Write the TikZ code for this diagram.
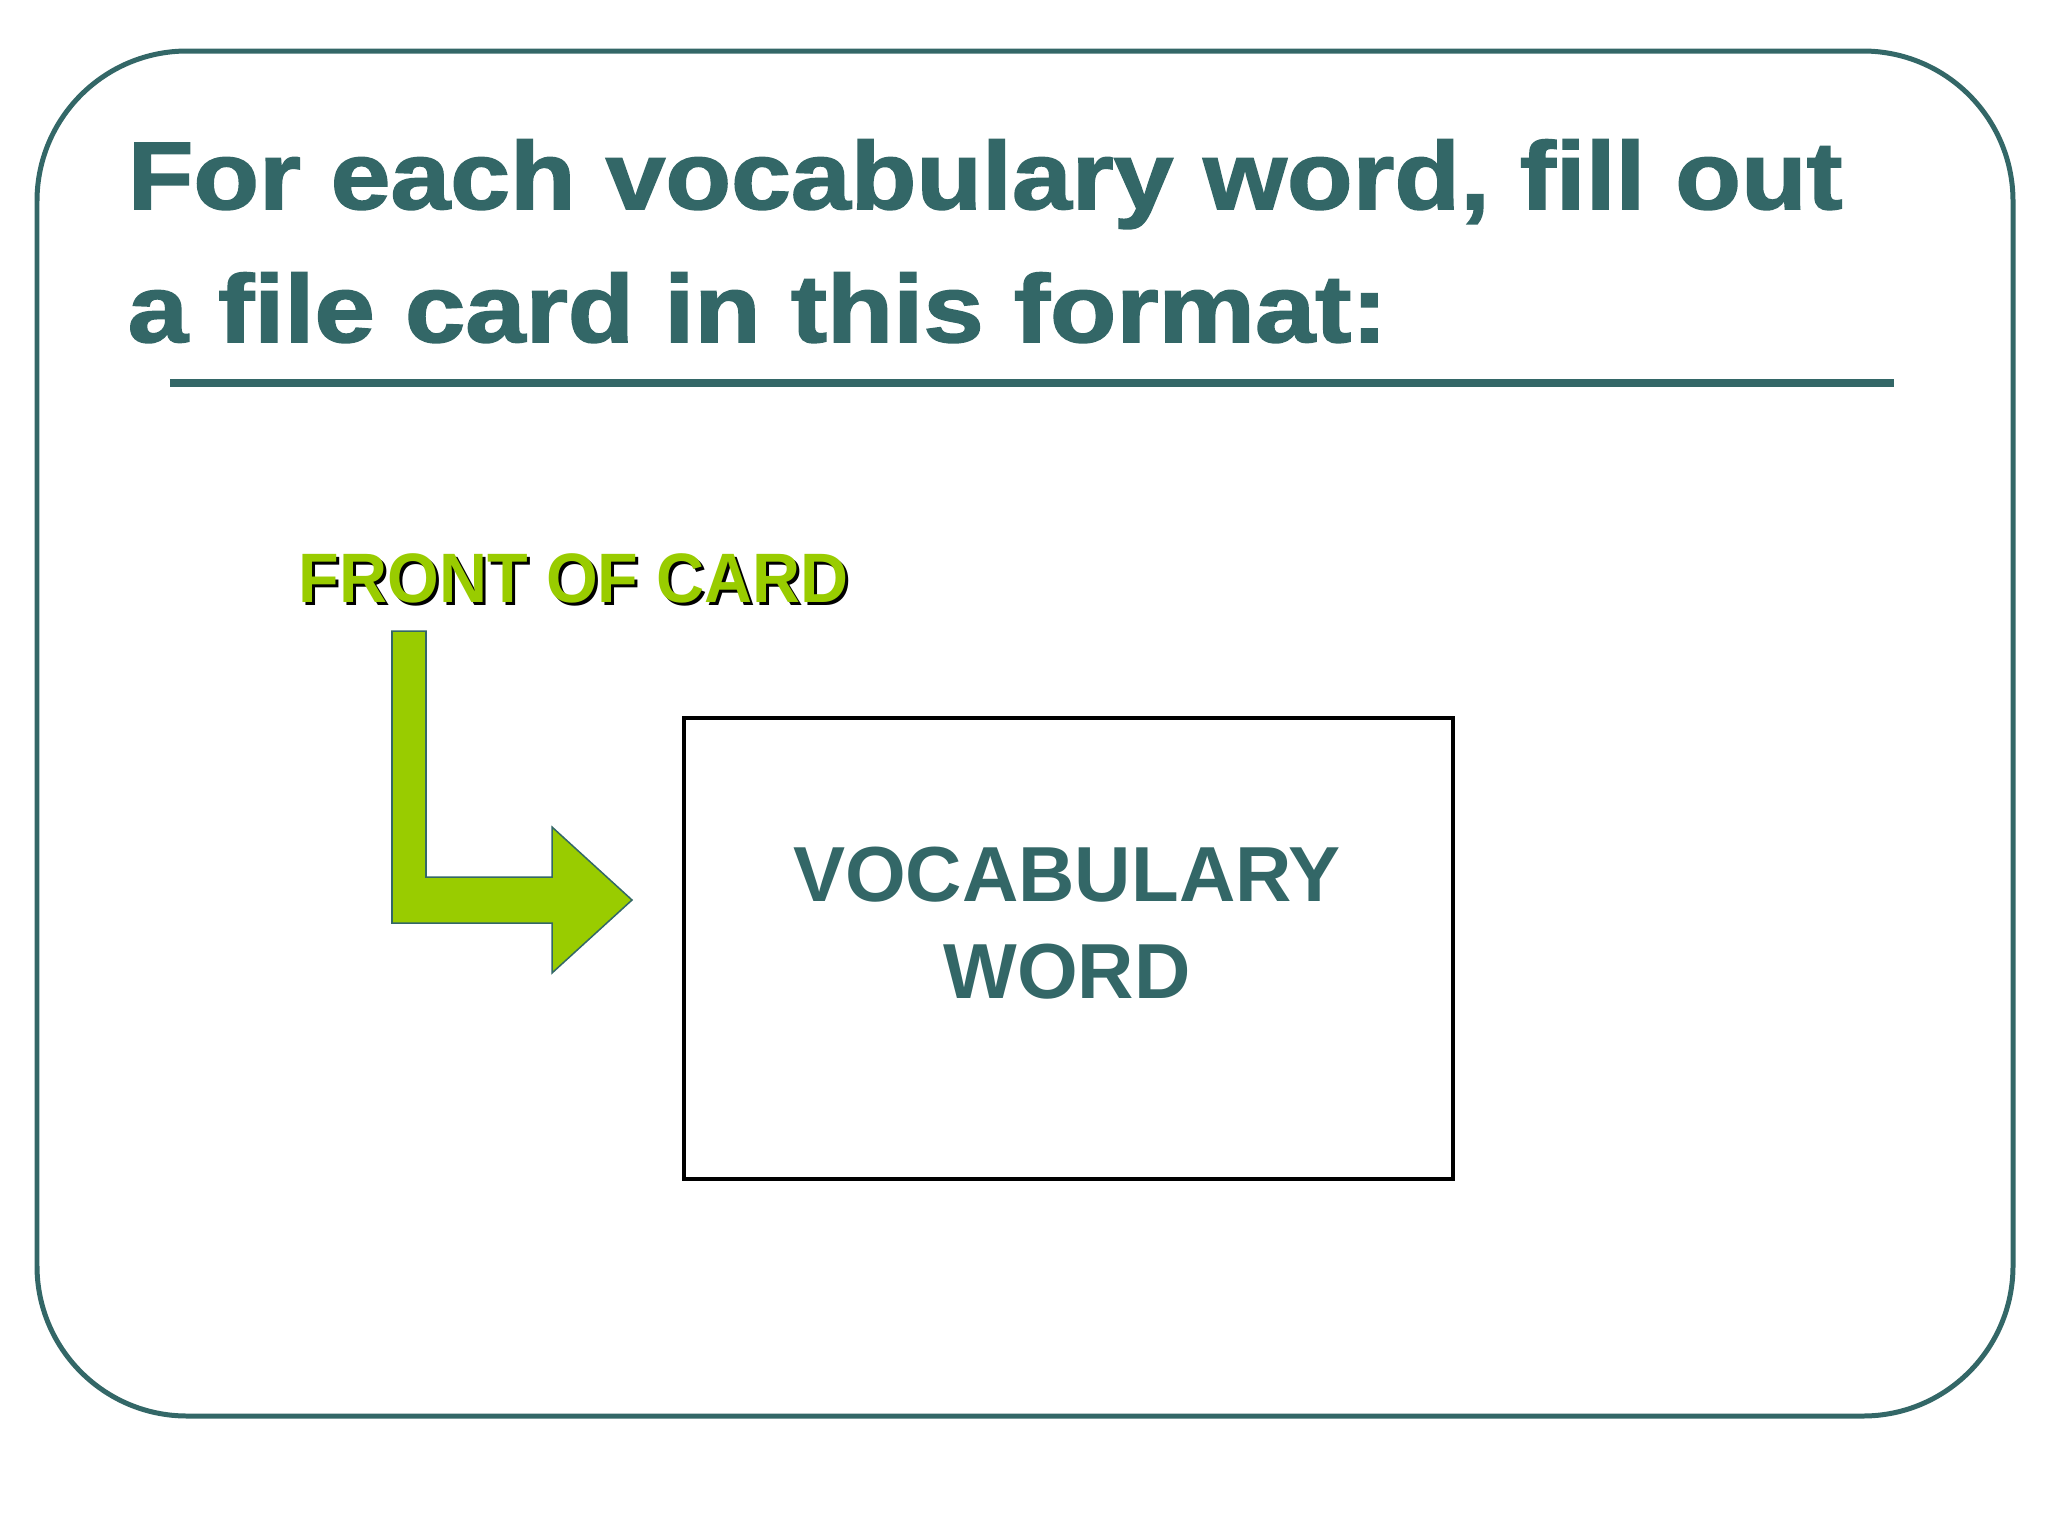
\documentclass[tikz,border=0pt]{standalone}
\usepackage{fontspec}
\setmainfont{Liberation Sans}
\newfontfamily\heavyfont[FakeBold=1.6]{Liberation Sans}
\definecolor{teal}{RGB}{51,103,103}
\definecolor{lime}{RGB}{153,204,0}
\tikzset{
  frame/.style={draw=teal, line width=1.42pt, rounded corners=1.5cm},
  titletxt/.style={anchor=base west, inner sep=0pt, text=teal, font=\fontsize{27.3}{30}\heavyfont\bfseries},
  fronttxt/.style={anchor=base west, inner sep=0pt, font=\fontsize{19.9}{22}\selectfont\bfseries},
  cardtxt/.style={anchor=base, inner sep=0pt, text=teal, font=\fontsize{22.2}{24}\selectfont\bfseries},
}
\begin{document}
\begin{tikzpicture}[x=0.01cm,y=-0.01cm]
\useasboundingbox (0,0) rectangle (2048,1536);
\fill[white] (0,0) rectangle (2048,1536);
\draw[frame] (37,51) rectangle (2013,1416);
\node[titletxt] (title1) at (127,209) {\scalebox{1.12}[1]{For each vocabulary word, fill out}};
\node[titletxt] (title2) at (127,342) {\scalebox{1.13}[1]{a file card in this format:}};
\draw[teal, line width=2pt] (170,383) -- (1894,383);
\node[fronttxt, text=black] (frontshadow) at (301,605) {\scalebox{0.95}[1]{FRONT OF CARD}};
\node[fronttxt, text=lime] (front) at (298,602) {\scalebox{0.95}[1]{FRONT OF CARD}};
\draw[fill=lime, draw=teal, line width=0.43pt]
  (392,631) -- (426,631) -- (426,877) -- (552,877) -- (552,827) -- (632,900)
  -- (552,973) -- (552,923) -- (392,923) -- cycle;
\node[draw=black, line width=1.14pt, minimum width=7.69cm, minimum height=4.61cm, inner sep=0pt, anchor=north west] (card) at (682,716) {};
\node[cardtxt] (vocab) at (1067,901) {VOCABULARY};
\node[cardtxt] (word) at (1067,998) {WORD};
\end{tikzpicture}
\end{document}
